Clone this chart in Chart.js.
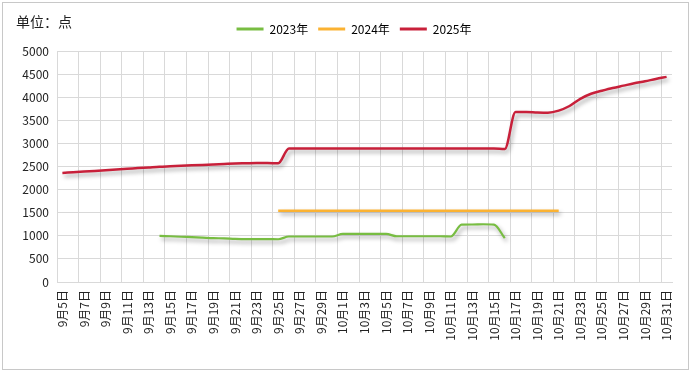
<!DOCTYPE html>
<html>
<head>
<meta charset="utf-8">
<script src="https://cdn.jsdelivr.net/npm/chart.js@4/dist/chart.umd.min.js"></script>
<style>
  body { margin: 0; background: #fff; }
  #wrap { position: relative; width: 690px; height: 372px; }
  #frame { position: absolute; left: 2px; top: 2px; width: 685px; height: 366px; border: 1px solid #c8c8c8; }
  #unit { position: absolute; left: 16px; top: 14px; font: 14px "Noto Sans CJK SC", sans-serif; line-height: 14px; color: #222; }
  canvas { position: absolute; left: 0; top: 0; }
</style>
</head>
<body>
<div id="wrap">
  <div id="frame"></div>
  <canvas id="chart" width="690" height="372"></canvas>
  <div id="unit">单位：点</div>
</div>
<script>
const days = [
  "9月5日", "9月6日", "9月7日", "9月8日", "9月9日", "9月10日", "9月11日", "9月12日",
  "9月13日", "9月14日", "9月15日", "9月16日", "9月17日", "9月18日", "9月19日", "9月20日",
  "9月21日", "9月22日", "9月23日", "9月24日", "9月25日", "9月26日", "9月27日", "9月28日",
  "9月29日", "9月30日", "10月1日", "10月2日", "10月3日", "10月4日", "10月5日", "10月6日",
  "10月7日", "10月8日", "10月9日", "10月10日", "10月11日", "10月12日", "10月13日", "10月14日",
  "10月15日", "10月16日", "10月17日", "10月18日", "10月19日", "10月20日", "10月21日", "10月22日",
  "10月23日", "10月24日", "10月25日", "10月26日", "10月27日", "10月28日", "10月29日", "10月30日",
  "10月31日"
];

// 2023年: 9月14日 ~ 10月16日
const y2023 = [
  null, null, null, null, null, null, null, null, null,
  1000, 990, 980, 970, 960, 950, 945, 935, 930, 930, 930, 925,
  985, 985, 985, 985, 985,
  1040, 1040, 1040, 1040, 1040,
  990, 990, 990, 990, 990, 985,
  1240, 1245, 1250, 1240, 950,
  null, null, null, null, null, null, null, null, null, null, null, null, null, null, null
];

// 2024年: 9月25日 ~ 10月21日
const y2024 = [
  null, null, null, null, null, null, null, null, null, null,
  null, null, null, null, null, null, null, null, null, null,
  1540, 1540, 1540, 1540, 1540, 1540, 1540, 1540, 1540, 1540,
  1540, 1540, 1540, 1540, 1540, 1540, 1540, 1540, 1540, 1540,
  1540, 1540, 1540, 1540, 1540, 1540, 1540,
  null, null, null, null, null, null, null, null, null, null
];

const y2025 = [
  2360, 2375, 2390, 2405, 2420, 2435, 2450, 2465, 2480, 2495,
  2505, 2515, 2525, 2535, 2545, 2555, 2565, 2570, 2575, 2575, 2570,
  2890, 2890, 2890, 2890, 2890, 2890, 2890, 2890, 2890, 2890,
  2890, 2890, 2890, 2890, 2890, 2890, 2890, 2890, 2890, 2890,
  2880,
  3680, 3680, 3670, 3665, 3710, 3810, 3965, 4075, 4140,
  4200, 4250, 4300, 4345, 4395, 4440
];

const seriesNames = ["2023年", "2024年", "2025年"];
const colors = ["#78bd42", "#fbb232", "#c8203a"];

const FONT = '"Noto Sans CJK SC", sans-serif';
const gridColor = "#d9d9d9";

const shadowPlugin = {
  id: "lineShadow",
  beforeDatasetDraw(chart) {
    const ctx = chart.ctx;
    ctx.save();
    ctx.shadowColor = "rgba(0,0,0,0.35)";
    ctx.shadowBlur = 4;
    ctx.shadowOffsetX = 2;
    ctx.shadowOffsetY = 3;
  },
  afterDatasetDraw(chart) {
    chart.ctx.restore();
  }
};

// legend: a bit more room below it, and nudged to where it sits in the picture
const legendTweak = {
  id: "legendTweak",
  afterInit(chart) {
    const lg = chart.legend;
    const fit = lg.fit;
    lg.fit = function () {
      fit.call(this);
      this.height += 6;
    };
  },
  afterLayout(chart) {
    const lg = chart.legend;
    const shift = 354 - (lg.left + lg.right) / 2;
    lg.left += shift;
    lg.right += shift;
  }
};

function makeSet(i, data, width) {
  return {
    label: seriesNames[i],
    data: data,
    borderColor: colors[i],
    backgroundColor: colors[i],
    borderWidth: width,
    pointRadius: 0,
    pointHoverRadius: 0,
    cubicInterpolationMode: "monotone",
    spanGaps: false
  };
}

new Chart(document.getElementById("chart"), {
  type: "line",
  data: {
    labels: days,
    datasets: [
      makeSet(0, y2023, 2.2),
      makeSet(1, y2024, 2.5),
      makeSet(2, y2025, 2.5)
    ]
  },
  options: {
    responsive: false,
    animation: false,
    layout: { padding: { left: 0, right: 18, top: 13, bottom: 10 } },
    plugins: {
      tooltip: { enabled: false },
      legend: {
        position: "top",
        labels: {
          boxWidth: 27,
          boxHeight: 3,
          padding: 10,
          color: "#222",
          font: { family: FONT, size: 12 },
          generateLabels(chart) {
            return chart.data.datasets.map((ds, i) => ({
              text: ds.label,
              fillStyle: ds.borderColor,
              strokeStyle: ds.borderColor,
              lineWidth: 0,
              hidden: false,
              datasetIndex: i
            }));
          }
        }
      }
    },
    scales: {
      x: {
        offset: true,
        grid: {
          offset: true,
          drawTicks: false,
          color: (c) => (c.index % 2 === 0 ? gridColor : "rgba(0,0,0,0)")
        },
        border: { color: gridColor },
        ticks: {
          autoSkip: false,
          maxRotation: 90,
          minRotation: 90,
          padding: 8,
          color: "#222",
          font: { family: FONT, size: 12 },
          callback: (v, i) => (i % 2 === 0 ? days[i] : "")
        },
        afterFit(scale) { scale.height = 80; }
      },
      y: {
        min: 0,
        max: 5000,
        grid: { color: gridColor, drawTicks: false },
        border: { color: gridColor },
        ticks: {
          stepSize: 500,
          padding: 8,
          color: "#222",
          font: { family: FONT, size: 12 },
          callback: (v) => String(v)
        },
        afterFit(scale) { scale.width = 57; }
      }
    }
  },
  plugins: [shadowPlugin, legendTweak]
});
</script>
</body>
</html>
